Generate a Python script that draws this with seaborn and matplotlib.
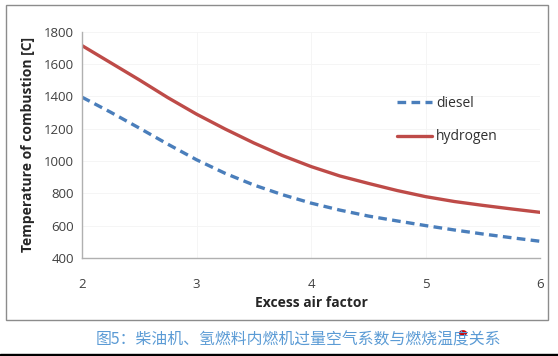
import pandas as pd
import seaborn as sns
import matplotlib.pyplot as plt
from matplotlib.patches import Rectangle, Circle

# data
excess_air = [2.0, 2.25, 2.5, 2.75, 3.0, 3.25, 3.5, 3.75, 4.0,
              4.25, 4.5, 4.75, 5.0, 5.25, 5.5, 5.75, 6.0]
diesel = [1395, 1302, 1204, 1104, 1008, 924, 852, 792, 740,
          697, 660, 630, 601, 574, 549, 526, 504]
hydrogen = [1714, 1608, 1502, 1392, 1290, 1198, 1112, 1034, 966,
            908, 862, 818, 780, 750, 726, 704, 683]
caption = "图5：柴油机、氢燃料内燃机过量空气系数与燃烧温度关系"

df = pd.DataFrame({
    "x": excess_air * 2,
    "T": diesel + hydrogen,
    "fuel": ["diesel"] * len(diesel) + ["hydrogen"] * len(hydrogen),
})

sns.set_theme(style="white")
plt.rcParams["font.family"] = ["Open Sans", "DejaVu Sans"]

fig = plt.figure(figsize=(5.58, 3.56), dpi=100)
ax = fig.add_axes([0.147, 0.275, 0.821, 0.636])

palette = {"diesel": "#4a7ebb", "hydrogen": "#be4b48"}
for fuel, ls in [("diesel", (0, (2.6, 1.6))), ("hydrogen", "-")]:
    sub = df[df["fuel"] == fuel]
    sns.lineplot(data=sub, x="x", y="T", ax=ax, color=palette[fuel],
                 linewidth=2.4, linestyle=ls, label=fuel)

ax.set_xlim(2, 6)
ax.set_ylim(400, 1800)
ax.set_xticks([2, 3, 4, 5, 6])
ax.set_yticks(range(400, 1801, 200))
ax.tick_params(axis="both", length=0, labelsize=9.5, colors="#404040")
ax.tick_params(axis="x", pad=14)
ax.tick_params(axis="y", pad=6)
ax.grid(True, color="#f4f4f4", linewidth=0.6)
for side in ["top", "right"]:
    ax.spines[side].set_visible(False)
for side in ["left", "bottom"]:
    ax.spines[side].set_color("#b0b0b0")
    ax.spines[side].set_linewidth(1.0)

ax.set_xlabel("Excess air factor", fontsize=10, fontweight="bold", labelpad=4)
ax.set_ylabel("Temperature of combustion [C]", fontsize=10, fontweight="bold", labelpad=6)

leg = ax.legend(loc="center left", bbox_to_anchor=(0.688, 0.61), frameon=False,
                fontsize=10, handlelength=2.5, handletextpad=0.3,
                labelspacing=1.35, borderpad=0, borderaxespad=0)
for t in leg.get_texts():
    t.set_color("#303030")

# outer chart border, caption and bottom rule
fig.patches.append(Rectangle((6 / 558, 1 - 320 / 356), 542 / 558, 315 / 356,
                             transform=fig.transFigure, fill=False,
                             edgecolor="#8c8c8c", linewidth=1.0))
fig.text(0.535, 1 - 340 / 356, caption, ha="center", va="center",
         fontsize=11.4, color="#5b9bd5",
         family=["Noto Sans CJK SC", "DejaVu Sans"])
fig.patches.append(Circle((463 / 558, 1 - 333 / 356), 0.006,
                          transform=fig.transFigure, color="#d00000"))
fig.patches.append(Rectangle((0, 0), 1, 2.5 / 356, transform=fig.transFigure,
                             color="black"))

fig.savefig("out.png", dpi=100)
